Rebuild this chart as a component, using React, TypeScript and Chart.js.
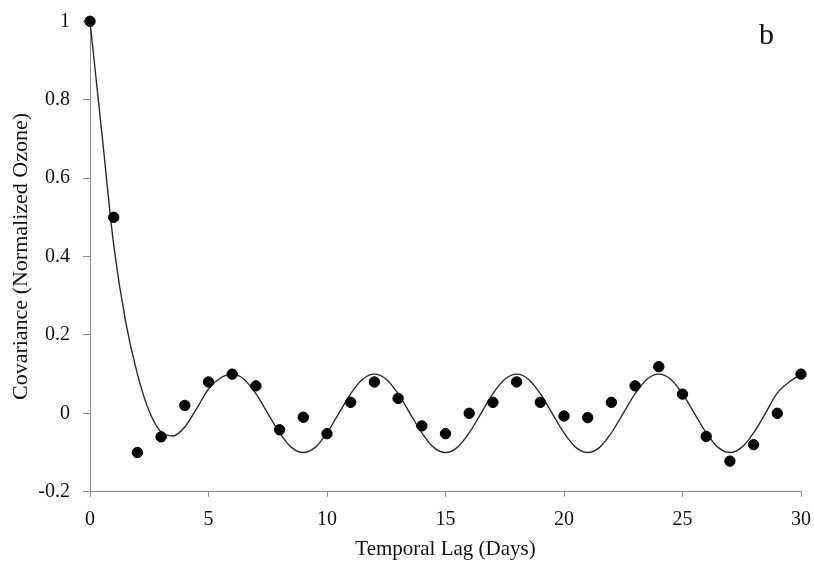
import React, { useEffect, useRef } from "react";
import { Chart, registerables } from "chart.js";

Chart.register(...registerables);

// Observed covariance at integer temporal lags (days)
const lags: number[] = [
  0, 1, 2, 3, 4, 5, 6, 7, 8, 9, 10, 11, 12, 13, 14, 15, 16, 17, 18, 19, 20,
  21, 22, 23, 24, 25, 26, 27, 28, 29, 30,
];
const covariance: number[] = [
  1.0, 0.5, -0.1, -0.06, 0.02, 0.08, 0.1, 0.07, -0.042, -0.01, -0.052, 0.028,
  0.08, 0.038, -0.032, -0.052, 0.0, 0.028, 0.08, 0.028, -0.007, -0.011, 0.028,
  0.07, 0.119, 0.049, -0.059, -0.122, -0.08, 0.0, 0.1,
];

// Fitted model curve, read at half-day steps
const curveLags: number[] = [
  0, 0.5, 1, 1.5, 2, 2.5, 3, 3.5, 4, 4.5, 5, 5.5, 6, 6.5, 7, 7.5, 8, 8.5, 9,
  9.5, 10, 10.5, 11, 11.5, 12, 12.5, 13, 13.5, 14, 14.5, 15, 15.5, 16, 16.5,
  17, 17.5, 18, 18.5, 19, 19.5, 20, 20.5, 21, 21.5, 22, 22.5, 23, 23.5, 24,
  24.5, 25, 25.5, 26, 26.5, 27, 27.5, 28, 28.5, 29, 29.5, 30,
];
const curveValues: number[] = [
  1.0, 0.715, 0.43, 0.235, 0.1, 0.005, -0.048, -0.058, -0.035, 0.012, 0.062,
  0.09, 0.1, 0.087, 0.05, 0.0, -0.05, -0.087, -0.1, -0.087, -0.05, 0.0, 0.05,
  0.087, 0.1, 0.087, 0.05, 0.0, -0.05, -0.087, -0.1, -0.087, -0.05, 0.0, 0.05,
  0.087, 0.1, 0.087, 0.05, 0.0, -0.05, -0.087, -0.1, -0.087, -0.05, 0.0, 0.05,
  0.087, 0.1, 0.087, 0.05, 0.0, -0.05, -0.087, -0.1, -0.087, -0.05, 0.0,
  0.052, 0.08, 0.1,
];

const xTicks: number[] = [0, 5, 10, 15, 20, 25, 30];
const yTicks: number[] = [-0.2, 0, 0.2, 0.4, 0.6, 0.8, 1];

const xTitle = "Temporal Lag (Days)";
const yTitle = "Covariance (Normalized Ozone)";
const panelLabel = "b";

const FONT = '"Liberation Serif", "Times New Roman", serif';
const AXIS = "#8a8a8a";
const TEXT = "#111111";

export default function App() {
  const ref = useRef<HTMLCanvasElement | null>(null);

  useEffect(() => {
    if (!ref.current) return;

    const labelPlugin = {
      id: "panelLabel",
      afterDraw(chart: any) {
        const ctx = chart.ctx;
        ctx.save();
        ctx.font = `30px ${FONT}`;
        ctx.fillStyle = TEXT;
        ctx.textAlign = "left";
        ctx.textBaseline = "alphabetic";
        ctx.fillText(panelLabel, 759, 44);
        ctx.restore();
      },
    };

    const chart = new Chart(ref.current, {
      type: "scatter",
      data: {
        datasets: [
          {
            type: "scatter",
            data: lags.map((x, i) => ({ x, y: covariance[i] })),
            backgroundColor: "#000",
            borderColor: "#000",
            pointRadius: 5.2,
            pointHoverRadius: 5.2,
            clip: false as any,
          },
          {
            type: "line",
            data: curveLags.map((x, i) => ({ x, y: curveValues[i] })),
            borderColor: "#2a2a2a",
            borderWidth: 1.4,
            pointRadius: 0,
            fill: false,
            cubicInterpolationMode: "monotone",
            clip: false as any,
          } as any,
        ],
      },
      options: {
        responsive: false,
        animation: false,
        events: [],
        layout: { padding: { top: 21.3, right: 13, left: 0, bottom: 0 } },
        plugins: {
          legend: { display: false },
          tooltip: { enabled: false },
        },
        scales: {
          x: {
            type: "linear",
            min: 0,
            max: 30,
            afterBuildTicks: (scale: any) => {
              scale.ticks = xTicks.map((v) => ({ value: v }));
            },
            afterFit: (scale: any) => {
              scale.height = 74.3;
              scale.paddingLeft = 0;
              scale.paddingRight = 0;
            },
            ticks: {
              color: TEXT,
              font: { family: FONT, size: 20 },
              padding: 11,
              maxRotation: 0,
            },
            grid: {
              drawOnChartArea: false,
              drawTicks: true,
              tickLength: 5,
              color: AXIS,
            },
            border: { display: true, color: AXIS, width: 1 },
            title: {
              display: true,
              text: xTitle,
              color: TEXT,
              font: { family: FONT, size: 21 },
              padding: { top: 4, bottom: 4 },
            },
          },
          y: {
            type: "linear",
            min: -0.2,
            max: 1,
            afterBuildTicks: (scale: any) => {
              scale.ticks = yTicks.map((v) => ({ value: v }));
            },
            afterFit: (scale: any) => {
              scale.width = 90;
              scale.paddingTop = 0;
              scale.paddingBottom = 0;
            },
            ticks: {
              color: TEXT,
              font: { family: FONT, size: 20 },
              padding: 13,
              callback: (v: any) => {
                const n = Math.round(Number(v) * 10) / 10;
                return String(n);
              },
            },
            grid: {
              drawOnChartArea: false,
              drawTicks: true,
              tickLength: 7,
              color: AXIS,
            },
            border: { display: true, color: AXIS, width: 1 },
            title: {
              display: true,
              text: yTitle,
              color: TEXT,
              font: { family: FONT, size: 22 },
              padding: { top: 8, bottom: 4 },
            },
          },
        },
      },
      plugins: [labelPlugin],
    } as any);

    return () => chart.destroy();
  }, []);

  return (
    <canvas
      ref={ref}
      width={814}
      height={566}
      style={{ position: "absolute", left: 0, top: 0, display: "block" }}
    />
  );
}
